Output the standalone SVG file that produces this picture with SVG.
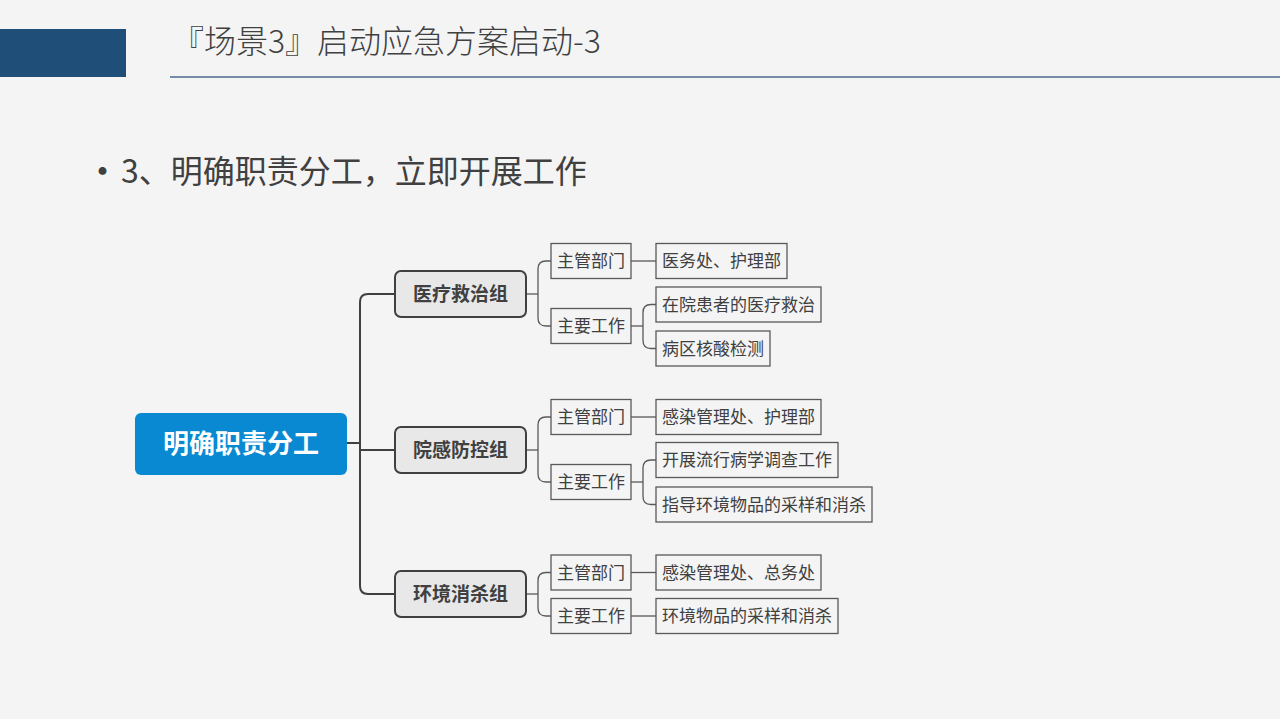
<svg xmlns="http://www.w3.org/2000/svg" width="1280" height="719" viewBox="0 0 1280 719">
<style>
.t{font-family:"Noto Sans CJK SC","Noto Sans",sans-serif;fill:#404040}
.root{fill:#0889d2}
.rt{font-family:"Noto Sans CJK SC",sans-serif;font-weight:bold;font-size:26px;fill:#ffffff}
.l1{fill:#e8e8e8;stroke:#404040;stroke-width:2}
.l1t{font-family:"Noto Sans CJK SC",sans-serif;font-weight:bold;font-size:19px;fill:#404040}
.b{fill:#f4f4f4;stroke:#595959;stroke-width:1.3}
.bt{font-family:"Noto Sans CJK SC",sans-serif;font-size:17px;fill:#404040}
.c1{fill:none;stroke:#404040;stroke-width:2}
.c2{fill:none;stroke:#595959;stroke-width:1.3}
</style>
<rect width="1280" height="719" fill="#f4f4f4"/>
<rect x="0" y="29" width="126" height="48" fill="#1f4e79"/>
<line x1="170" y1="77" x2="1280" y2="77" stroke="#4a6a8c" stroke-width="1.5"/>
<text class="t" x="172" y="53" font-size="32" font-weight="300">『场景3』启动应急方案启动-3</text>
<text class="t" x="84" y="185" font-size="37">•</text>
<text class="t" x="121" y="183" font-size="32">3、明确职责分工，立即开展工作</text>

<g id="connectors">
<path class="c1" d="M347,443 H360"/>
<path class="c1" d="M395,294 H368 Q360,294 360,302 V586 Q360,594 368,594 H395"/>
<path class="c1" d="M360,450 H395"/>
<path class="c2" d="M526,294 H538"/>
<path class="c2" d="M551,261 H546 Q538,261 538,269 V318 Q538,326 546,326 H551"/>
<path class="c2" d="M631,261 H656"/>
<path class="c2" d="M631,326 H643"/>
<path class="c2" d="M656,304.5 H651 Q643,304.5 643,312.5 V340.5 Q643,348.5 651,348.5 H656"/>
<path class="c2" d="M526,450 H538"/>
<path class="c2" d="M551,417 H546 Q538,417 538,425 V474 Q538,482 546,482 H551"/>
<path class="c2" d="M631,417 H656"/>
<path class="c2" d="M631,482 H643"/>
<path class="c2" d="M656,460 H651 Q643,460 643,468 V496.5 Q643,504.5 651,504.5 H656"/>
<path class="c2" d="M526,594 H538"/>
<path class="c2" d="M551,572.5 H546 Q538,572.5 538,580.5 V608 Q538,616 546,616 H551"/>
<path class="c2" d="M631,572.5 H656"/>
<path class="c2" d="M631,616 H656"/>
</g>

<g id="root"><rect class="root" x="135" y="413" width="212" height="62" rx="6"/><text class="rt" x="241" y="453" text-anchor="middle">明确职责分工</text></g>

<g id="g1"><rect class="l1" x="395" y="271" width="131" height="46" rx="6"/><text class="l1t" x="460.5" y="301" text-anchor="middle">医疗救治组</text></g>
<g id="g2"><rect class="l1" x="395" y="427" width="131" height="46" rx="6"/><text class="l1t" x="460.5" y="457" text-anchor="middle">院感防控组</text></g>
<g id="g3"><rect class="l1" x="395" y="571" width="131" height="46" rx="6"/><text class="l1t" x="460.5" y="601" text-anchor="middle">环境消杀组</text></g>

<g id="g1-dept"><rect class="b" x="551" y="243.5" width="80" height="35"/><text class="bt" x="557" y="267">主管部门</text></g>
<g id="g1-work"><rect class="b" x="551" y="308.5" width="80" height="35"/><text class="bt" x="557" y="332">主要工作</text></g>
<g id="g1-l1"><rect class="b" x="656" y="243.5" width="131" height="35"/><text class="bt" x="662" y="267">医务处、护理部</text></g>
<g id="g1-l2"><rect class="b" x="656" y="287" width="165" height="35"/><text class="bt" x="662" y="310.5">在院患者的医疗救治</text></g>
<g id="g1-l3"><rect class="b" x="656" y="331" width="114" height="35"/><text class="bt" x="662" y="354.5">病区核酸检测</text></g>

<g id="g2-dept"><rect class="b" x="551" y="399.5" width="80" height="35"/><text class="bt" x="557" y="423">主管部门</text></g>
<g id="g2-work"><rect class="b" x="551" y="464.5" width="80" height="35"/><text class="bt" x="557" y="488">主要工作</text></g>
<g id="g2-l1"><rect class="b" x="656" y="399.5" width="165" height="35"/><text class="bt" x="662" y="423">感染管理处、护理部</text></g>
<g id="g2-l2"><rect class="b" x="656" y="442.5" width="182" height="35"/><text class="bt" x="662" y="466">开展流行病学调查工作</text></g>
<g id="g2-l3"><rect class="b" x="656" y="487" width="216" height="35"/><text class="bt" x="662" y="510.5">指导环境物品的采样和消杀</text></g>

<g id="g3-dept"><rect class="b" x="551" y="555" width="80" height="35"/><text class="bt" x="557" y="578.5">主管部门</text></g>
<g id="g3-work"><rect class="b" x="551" y="598.5" width="80" height="35"/><text class="bt" x="557" y="622">主要工作</text></g>
<g id="g3-l1"><rect class="b" x="656" y="555" width="165" height="35"/><text class="bt" x="662" y="578.5">感染管理处、总务处</text></g>
<g id="g3-l2"><rect class="b" x="656" y="598.5" width="182" height="35"/><text class="bt" x="662" y="622">环境物品的采样和消杀</text></g>
</svg>
